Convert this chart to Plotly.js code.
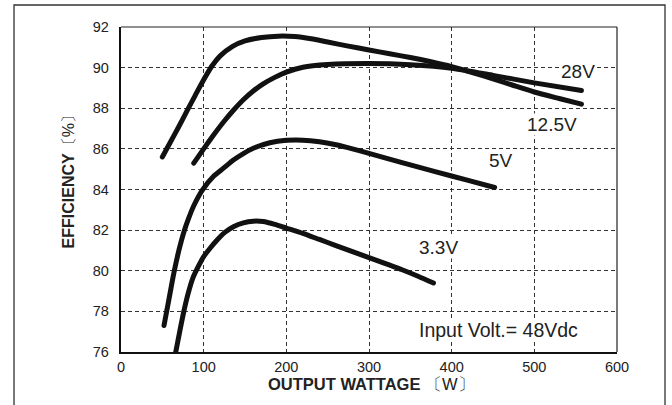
<!DOCTYPE html>
<html>
<head>
<meta charset="utf-8">
<script src="https://cdn.plot.ly/plotly-3.0.1.min.js"></script>
<style>html,body{margin:0;padding:0;background:#fff;}#chart{width:672px;height:405px;}.scatterlayer .js-line{stroke-linecap:round;}</style>
</head>
<body>
<div id="chart"></div>
<script>
// Output wattage (W) and efficiency (%) for each output voltage curve
const x28 = [50, 60, 70, 80, 90, 100, 110, 120, 135, 150, 170, 190, 210, 230, 250, 275, 300, 325, 350, 375, 400, 425, 450, 475, 500, 530, 557];
const y28 = [85.6, 86.35, 87.1, 87.88, 88.65, 89.4, 90.08, 90.58, 91.05, 91.32, 91.48, 91.55, 91.53, 91.42, 91.26, 91.06, 90.87, 90.68, 90.5, 90.29, 90.05, 89.76, 89.45, 89.12, 88.8, 88.48, 88.2];

const x125 = [88, 100, 112, 124, 136, 148, 160, 172, 186, 200, 220, 250, 300, 350, 400, 450, 500, 557];
const y125 = [85.3, 86.0, 86.68, 87.32, 87.9, 88.42, 88.85, 89.2, 89.52, 89.78, 90.02, 90.15, 90.2, 90.14, 89.97, 89.62, 89.25, 88.87];

const x5 = [52, 58, 64, 70, 76, 82, 88, 98, 112, 124, 136, 148, 160, 180, 200, 220, 240, 260, 280, 300, 340, 380, 420, 452];
const y5 = [77.3, 78.6, 79.9, 81.0, 81.9, 82.6, 83.2, 83.95, 84.65, 85.05, 85.45, 85.77, 86.03, 86.3, 86.42, 86.43, 86.35, 86.2, 86.0, 85.78, 85.32, 84.88, 84.45, 84.1];

const x33 = [66, 71, 76, 81, 87, 94, 100, 108, 116, 126, 136, 148, 160, 172, 186, 200, 220, 240, 260, 280, 300, 320, 340, 360, 378];
const y33 = [75.95, 77.0, 78.0, 78.85, 79.65, 80.25, 80.7, 81.12, 81.5, 81.9, 82.17, 82.36, 82.44, 82.42, 82.28, 82.1, 81.84, 81.54, 81.24, 80.94, 80.65, 80.35, 80.05, 79.72, 79.4];

const curveLabels = ["28V", "12.5V", "5V", "3.3V"];
const labelX = [553.4, 520.8, 459.1, 383.5];
const labelY = [89.8, 87.21, 85.42, 81.13];

const xTicks = [0, 100, 200, 300, 400, 500, 600];
const yTicks = [76, 78, 80, 82, 84, 86, 88, 90, 92];

const xTitle = "<b>OUTPUT WATTAGE</b> 〔W〕";
const yTitle = "<b>EFFICIENCY</b>〔%〕";
const noteText = "Input Volt.= 48Vdc";

const lineStyle = {color: '#111', width: 5, shape: 'spline', smoothing: 0.6};
const series = [[x28, y28, curveLabels[0]], [x125, y125, curveLabels[1]], [x5, y5, curveLabels[2]], [x33, y33, curveLabels[3]]];
const traces = series.map(s => ({x: s[0], y: s[1], name: s[2], mode: 'lines', line: lineStyle, hoverinfo: 'skip'}));

const font = 'Liberation Sans, Arial, Helvetica, sans-serif';
const annotations = curveLabels.map((t, i) => ({
  x: labelX[i], y: labelY[i], xref: 'x', yref: 'y', text: t, showarrow: false,
  font: {family: font, size: 19, color: '#222'}, bgcolor: '#fff', borderpad: 0
}));
annotations.push({x: 456.7, y: 77.08, xref: 'x', yref: 'y', text: noteText, showarrow: false,
  font: {family: font, size: 19.5, color: '#222'}, bgcolor: '#fff', borderpad: 0});
annotations.push({x: 0.506, y: -0.0985, xref: 'paper', yref: 'paper', text: xTitle, showarrow: false,
  xanchor: 'center', yanchor: 'middle', font: {family: font, size: 16.5, color: '#222'}});
annotations.push({x: -0.1069, y: 0.537, xref: 'paper', yref: 'paper', text: yTitle, showarrow: false,
  textangle: -90, xanchor: 'center', yanchor: 'middle', font: {family: font, size: 16, color: '#222'}});

const axisCommon = {
  showgrid: true, gridcolor: '#333', gridwidth: 1, griddash: '4px,3px',
  showline: true, linecolor: '#111', linewidth: 2.2, zeroline: false,
  ticks: '', tickfont: {family: font, size: 14.5, color: '#222'}, fixedrange: true
};

const layout = {
  width: 672, height: 405,
  margin: {l: 121, r: 55, t: 27, b: 53},
  paper_bgcolor: '#fff', plot_bgcolor: '#fff',
  showlegend: false,
  xaxis: Object.assign({}, axisCommon, {range: [0, 600], tickvals: xTicks, ticktext: xTicks.map(String), ticklabelstandoff: 0}),
  yaxis: Object.assign({}, axisCommon, {range: [76, 92], tickvals: yTicks, ticktext: yTicks.map(String), ticklabelstandoff: 7}),
  annotations: annotations,
  shapes: [
    {type: 'line', xref: 'paper', yref: 'paper', x0: 0, x1: 1, y0: 1, y1: 1, line: {color: '#222', width: 1.2}, layer: 'above'},
    {type: 'line', xref: 'paper', yref: 'paper', x0: 1, x1: 1, y0: 0, y1: 1, line: {color: '#222', width: 1.2}, layer: 'above'},
    {type: 'rect', xref: 'paper', yref: 'paper', x0: -0.2157, x1: 1.0968, y0: -0.3, y1: 1.0677, line: {color: '#333', width: 1.3}, layer: 'above'}
  ]
};

Plotly.newPlot('chart', traces, layout, {staticPlot: true, displayModeBar: false});
</script>
</body>
</html>
